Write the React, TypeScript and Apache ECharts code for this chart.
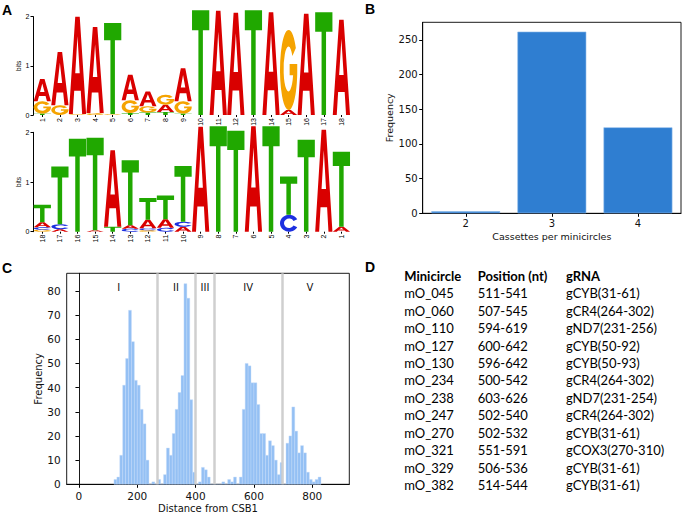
import React, { useEffect, useRef } from 'react';
import * as echarts from 'echarts';

// ---------- Panel A: sequence logos (bits per letter, per position) ----------
const logoTopLabels = ['1','2','3','4','5','6','7','8','9','10','11','12','13','14','15','16','17','18'];
const logoTopA = [0.45, 1.08, 1.98, 1.75, 0, 0.52, 0.30, 0.15, 0.67, 0, 2.12, 2.08, 0, 2.09, 0.10, 2.06, 0, 1.94];
const logoTopC = [0, 0, 0, 0, 0, 0, 0, 0, 0, 0, 0, 0, 0, 0, 0, 0, 0, 0];
const logoTopG = [0.25, 0.20, 0.02, 0.04, 0.02, 0.26, 0.13, 0.20, 0.25, 0, 0, 0, 0, 0, 1.63, 0, 0, 0];
const logoTopT = [0.03, 0, 0, 0, 1.85, 0.04, 0.05, 0.06, 0.03, 2.13, 0, 0, 2.13, 0, 0, 0, 2.09, 0];

const logoBottomLabels = ['18','17','16','15','14','13','12','11','10','9','8','7','6','5','4','3','2','1'];
const logoBottomA = [0.10, 0.05, 0, 0.03, 1.54, 0.07, 0.17, 0.17, 0.10, 2.11, 0, 0, 2.12, 0, 0, 0, 2.05, 0.10];
const logoBottomC = [0.05, 0.10, 0, 0, 0, 0.06, 0.04, 0.08, 0.10, 0, 0, 0, 0, 0, 0.34, 0, 0, 0];
const logoBottomG = [0.04, 0, 0, 0, 0, 0, 0.03, 0, 0, 0, 0, 0, 0, 0, 0, 0, 0, 0];
const logoBottomT = [0.35, 1.16, 1.87, 1.86, 0.10, 1.31, 0.44, 0.48, 1.12, 0, 2.12, 2.03, 0, 2.12, 0.77, 1.85, 0, 1.51];
const logoTicks = [0, 1, 2];

// ---------- Panel B ----------
const cassetteCategories = ['2', '3', '4'];
const cassetteCounts = [3, 262, 124];
const cassetteTicks = [0, 50, 100, 150, 200, 250];

// ---------- Panel C ----------
const histBinStarts = [
  120, 130, 140, 150, 160, 170, 180, 190, 200, 210,
  220, 230, 240, 250, 260, 270, 280, 290, 300, 310,
  320, 330, 340, 350, 360, 370, 380, 390, 400, 410,
  420, 430, 440, 450, 460, 470, 480, 490, 500, 510,
  520, 530, 540, 550, 560, 570, 580, 590, 600, 610,
  620, 630, 640, 650, 660, 670, 680, 690, 700, 710,
  720, 730, 740, 750, 760, 770, 780, 790, 800, 810, 820,
];
const histCounts = [
  2, 3, 12, 41, 52, 72, 59, 43, 41, 31,
  25, 10, 0, 1, 0, 2, 0, 4, 15, 12,
  21, 31, 38, 45, 83, 77, 35, 5, 0, 1,
  7, 6, 3, 0, 0, 0, 0, 1, 0, 2,
  1, 3, 0, 3, 31, 50, 49, 42, 42, 33,
  21, 21, 12, 18, 16, 10, 4, 9, 0, 17,
  20, 32, 22, 13, 16, 13, 5, 2, 1, 2, 3,
];
const histBinWidth = 10;
const regionBoundaries = [268, 398, 465, 696];
const regionNames = ['I', 'II', 'III', 'IV', 'V'];
const regionLabelX = [136, 333, 432, 580, 792];
const distanceTicks = [0, 200, 400, 600, 800];
const frequencyTicks = [0, 10, 20, 30, 40, 50, 60, 70, 80];

// ---------- Panel D ----------
const tableHeader = ['Minicircle', 'Position (nt)', 'gRNA'];
const minicircles = ['mO_045', 'mO_060', 'mO_110', 'mO_127', 'mO_130', 'mO_234', 'mO_238', 'mO_247', 'mO_270', 'mO_321', 'mO_329', 'mO_382'];
const positionsNt = ['511-541', '507-545', '594-619', '600-642', '596-642', '500-542', '603-626', '502-540', '502-532', '551-591', '506-536', '514-544'];
const grnas = ['gCYB(31-61)', 'gCR4(264-302)', 'gND7(231-256)', 'gCYB(50-92)', 'gCYB(50-93)', 'gCR4(264-302)', 'gND7(231-254)', 'gCR4(264-302)', 'gCYB(31-61)', 'gCOX3(270-310)', 'gCYB(31-61)', 'gCYB(31-61)'];

// letter glyph outlines in a 100x100 box: A, C, G, T
const LETTER_PATHS = [
  'M0 100 L37 0 L63 0 L100 100 L77 100 L69 76 L31 76 L23 100 Z M37 58 L63 58 L50 20 Z',
  'M92 26 A50 50 0 1 0 92 74 L72 64 A28 28 0 1 1 72 36 Z',
  'M92 26 A50 50 0 1 0 100 58 L100 46 L56 46 L56 60 L76 60 A28 28 0 1 1 72 36 Z',
  'M0 0 L100 0 L100 19 L63 19 L63 100 L37 100 L37 19 L0 19 Z',
];
const LETTER_COLORS = ['#d90000', '#1c2fe0', '#f5a300', '#20a800'];

function buildLogo(A: number[], C: number[], G: number[], T: number[]) {
  const items: number[][] = [];
  for (let i = 0; i < A.length; i++) {
    const letters = [[0, A[i]], [1, C[i]], [2, G[i]], [3, T[i]]]
      .filter((l) => l[1] > 0)
      .sort((a, b) => a[1] - b[1]);
    let y = 0;
    for (const [li, h] of letters) {
      items.push([i, y, y + h, li]);
      y += h;
    }
  }
  return items;
}

const logoRender = (params: any, api: any) => {
  const xi = api.value(0);
  const y0 = api.value(1);
  const y1 = api.value(2);
  const li = api.value(3);
  const pb = api.coord([xi, y0]);
  const pt = api.coord([xi, y1]);
  const w = api.size([1, 0])[0];
  const h = pb[1] - pt[1];
  if (h < 0.3) return null;
  return {
    type: 'path',
    shape: { pathData: LETTER_PATHS[li], x: pb[0] - w * 0.49, y: pt[1], width: w * 0.98, height: h, layout: 'cover' },
    style: { fill: LETTER_COLORS[li] },
  };
};

const histRender = (params: any, api: any) => {
  const x0 = api.value(0);
  const c = api.value(1);
  const p0 = api.coord([x0, 0]);
  const p1 = api.coord([x0 + histBinWidth, c]);
  return {
    type: 'rect',
    shape: { x: p0[0], y: p1[1], width: p1[0] - p0[0], height: p0[1] - p1[1] },
    style: { fill: '#94c0f4', stroke: '#c4dcfa', lineWidth: 0.4 },
  };
};

const MPL = 'DejaVu Sans';

function logoAxes(gridIndex: number, labels: string[]) {
  return {
    x: {
      type: 'category', gridIndex, data: labels,
      axisLine: { show: false },
      axisTick: { show: true, alignWithLabel: true, length: 2, lineStyle: { color: '#000', width: 1 } },
      axisLabel: { rotate: 90, fontSize: 7, margin: 3, fontFamily: 'Liberation Sans', color: '#000' },
      splitLine: { show: false },
    },
    y: {
      type: 'value', gridIndex, min: 0, max: 2, interval: 1,
      axisLine: { show: true, lineStyle: { color: '#000', width: 1 } },
      axisTick: { show: true, length: 3, lineStyle: { color: '#000' }, customValues: logoTicks },
      axisLabel: { fontSize: 7, margin: 4, fontFamily: 'Liberation Sans', color: '#000', customValues: logoTicks },
      splitLine: { show: false },
      name: 'bits', nameLocation: 'middle', nameGap: 9,
      nameTextStyle: { fontSize: 6.5, fontFamily: 'Liberation Sans', color: '#000' },
    },
  };
}

function panelLabel(text: string, x: number, y: number) {
  return {
    type: 'text',
    style: { text, x, y, font: 'bold 14px "Liberation Sans"', fill: '#000', verticalAlign: 'middle', textVerticalAlign: 'middle' },
  };
}

export default function App() {
  const ref = useRef<HTMLDivElement>(null);
  useEffect(() => {
    if (!ref.current) return;
    const chart = echarts.init(ref.current, undefined, { renderer: 'svg' });
    const la = logoAxes(0, logoTopLabels);
    const lb = logoAxes(1, logoBottomLabels);

    const tableGraphics: any[] = [];
    const colX = [404.3, 477.7, 566];
    tableHeader.forEach((t, j) => {
      tableGraphics.push({
        type: 'text',
        style: { text: t, x: colX[j], y: 275.7, font: 'bold 13px Lato', fill: '#000', verticalAlign: 'middle', textVerticalAlign: 'middle' },
      });
    });
    minicircles.forEach((m, i) => {
      const y = 293.3 + i * 17.43;
      [m, positionsNt[i], grnas[i]].forEach((t, j) => {
        tableGraphics.push({
          type: 'text',
          style: { text: t, x: colX[j], y, font: '13px Lato', fill: '#000', verticalAlign: 'middle', textVerticalAlign: 'middle' },
        });
      });
    });

    // Roman region labels of panel C, placed at data coordinates through the axis scales
    const regionLabelY = 81.5;

    const boxGrid = { show: true, borderColor: '#000', borderWidth: 0.9, backgroundColor: 'transparent', containLabel: false, outerBoundsMode: 'none' };

    chart.setOption({
      animation: false,
      grid: [
        { left: 33.5, top: 16.7, width: 316.7, height: 98.3, containLabel: false, outerBoundsMode: 'none' },
        { left: 33.5, top: 132.3, width: 316.7, height: 99.4, containLabel: false, outerBoundsMode: 'none' },
        { ...boxGrid, left: 422.7, top: 22.3, width: 258.3, height: 191 },
        { ...boxGrid, left: 66.7, top: 273.3, width: 282.6, height: 211 },
      ],
      xAxis: [
        la.x,
        lb.x,
        {
          type: 'category', gridIndex: 2, data: cassetteCategories,
          axisLine: { show: true, lineStyle: { color: '#000', width: 0.9 } },
          axisTick: { show: true, alignWithLabel: true, length: 3.5, lineStyle: { color: '#000' } },
          axisLabel: { fontSize: 10, margin: 5, fontFamily: MPL, color: '#111' },
          name: 'Cassettes per minicircles', nameLocation: 'middle', nameGap: 18,
          nameTextStyle: { fontSize: 9.5, fontFamily: MPL, color: '#111' },
        },
        {
          type: 'value', gridIndex: 3, min: -42, max: 927,
          axisLine: { show: true, onZero: false, lineStyle: { color: '#000', width: 0.9 } },
          axisTick: { show: true, length: 3.5, lineStyle: { color: '#000' }, customValues: distanceTicks },
          axisLabel: { fontSize: 10.5, margin: 6, fontFamily: MPL, color: '#111', customValues: distanceTicks },
          splitLine: { show: false },
          name: 'Distance from CSB1', nameLocation: 'middle', nameGap: 19,
          nameTextStyle: { fontSize: 10, fontFamily: MPL, color: '#111' },
        },
      ],
      yAxis: [
        la.y,
        lb.y,
        {
          type: 'value', gridIndex: 2, min: 0, max: 275.5,
          axisLine: { show: true, lineStyle: { color: '#000', width: 0.9 } },
          axisTick: { show: true, length: 3.5, lineStyle: { color: '#000' }, customValues: cassetteTicks },
          axisLabel: { fontSize: 10, margin: 5, fontFamily: MPL, color: '#111', customValues: cassetteTicks },
          splitLine: { show: false },
          name: 'Frequency', nameLocation: 'middle', nameGap: 27,
          nameTextStyle: { fontSize: 9.5, fontFamily: MPL, color: '#111' },
        },
        {
          type: 'value', gridIndex: 3, min: 0, max: 87.3,
          axisLine: { show: true, lineStyle: { color: '#000', width: 0.9 } },
          axisTick: { show: true, length: 3.5, lineStyle: { color: '#000' }, customValues: frequencyTicks },
          axisLabel: { fontSize: 10.5, margin: 6, fontFamily: MPL, color: '#111', customValues: frequencyTicks },
          splitLine: { show: false },
          name: 'Frequency', nameLocation: 'middle', nameGap: 23,
          nameTextStyle: { fontSize: 10, fontFamily: MPL, color: '#111' },
        },
      ],
      series: [
        {
          type: 'custom', xAxisIndex: 0, yAxisIndex: 0, clip: false,
          renderItem: logoRender, encode: { x: 0, y: [1, 2] },
          data: buildLogo(logoTopA, logoTopC, logoTopG, logoTopT),
        },
        {
          type: 'custom', xAxisIndex: 1, yAxisIndex: 1, clip: false,
          renderItem: logoRender, encode: { x: 0, y: [1, 2] },
          data: buildLogo(logoBottomA, logoBottomC, logoBottomG, logoBottomT),
        },
        {
          type: 'bar', xAxisIndex: 2, yAxisIndex: 2, barWidth: '80%',
          data: cassetteCounts,
          itemStyle: { color: '#2f7ed1', borderColor: '#8dbbeb', borderWidth: 0.6 },
        },
        {
          type: 'custom', xAxisIndex: 3, yAxisIndex: 3,
          renderItem: histRender, encode: { x: 0, y: 1 },
          data: histBinStarts.map((b, i) => [b, histCounts[i]]),
          markLine: {
            silent: true, symbol: ['none', 'none'], label: { show: false },
            lineStyle: { color: '#cfcfcf', width: 2.5, type: 'solid' },
            data: regionBoundaries.map((v) => ({ xAxis: v })),
          },
        },
        {
          type: 'custom', xAxisIndex: 3, yAxisIndex: 3,
          encode: { x: 0, y: 1 },
          data: regionNames.map((n, i) => [regionLabelX[i], regionLabelY, i]),
          renderItem: (params: any, api: any) => {
            const p = api.coord([api.value(0), api.value(1)]);
            return {
              type: 'text',
              style: {
                text: regionNames[api.value(2)], x: p[0], y: p[1],
                font: '10px "DejaVu Sans"', fill: '#111',
                align: 'center', verticalAlign: 'middle', textAlign: 'center', textVerticalAlign: 'middle',
              },
            };
          },
        },
      ],
      graphic: [
        panelLabel('A', 2, 10),
        panelLabel('B', 365, 9),
        panelLabel('C', 2, 267.5),
        panelLabel('D', 365, 267),
        ...tableGraphics,
      ],
    });
    return () => chart.dispose();
  }, []);
  return <div ref={ref} style={{ position: 'absolute', left: 0, top: 0, width: 683, height: 514 }} />;
}
